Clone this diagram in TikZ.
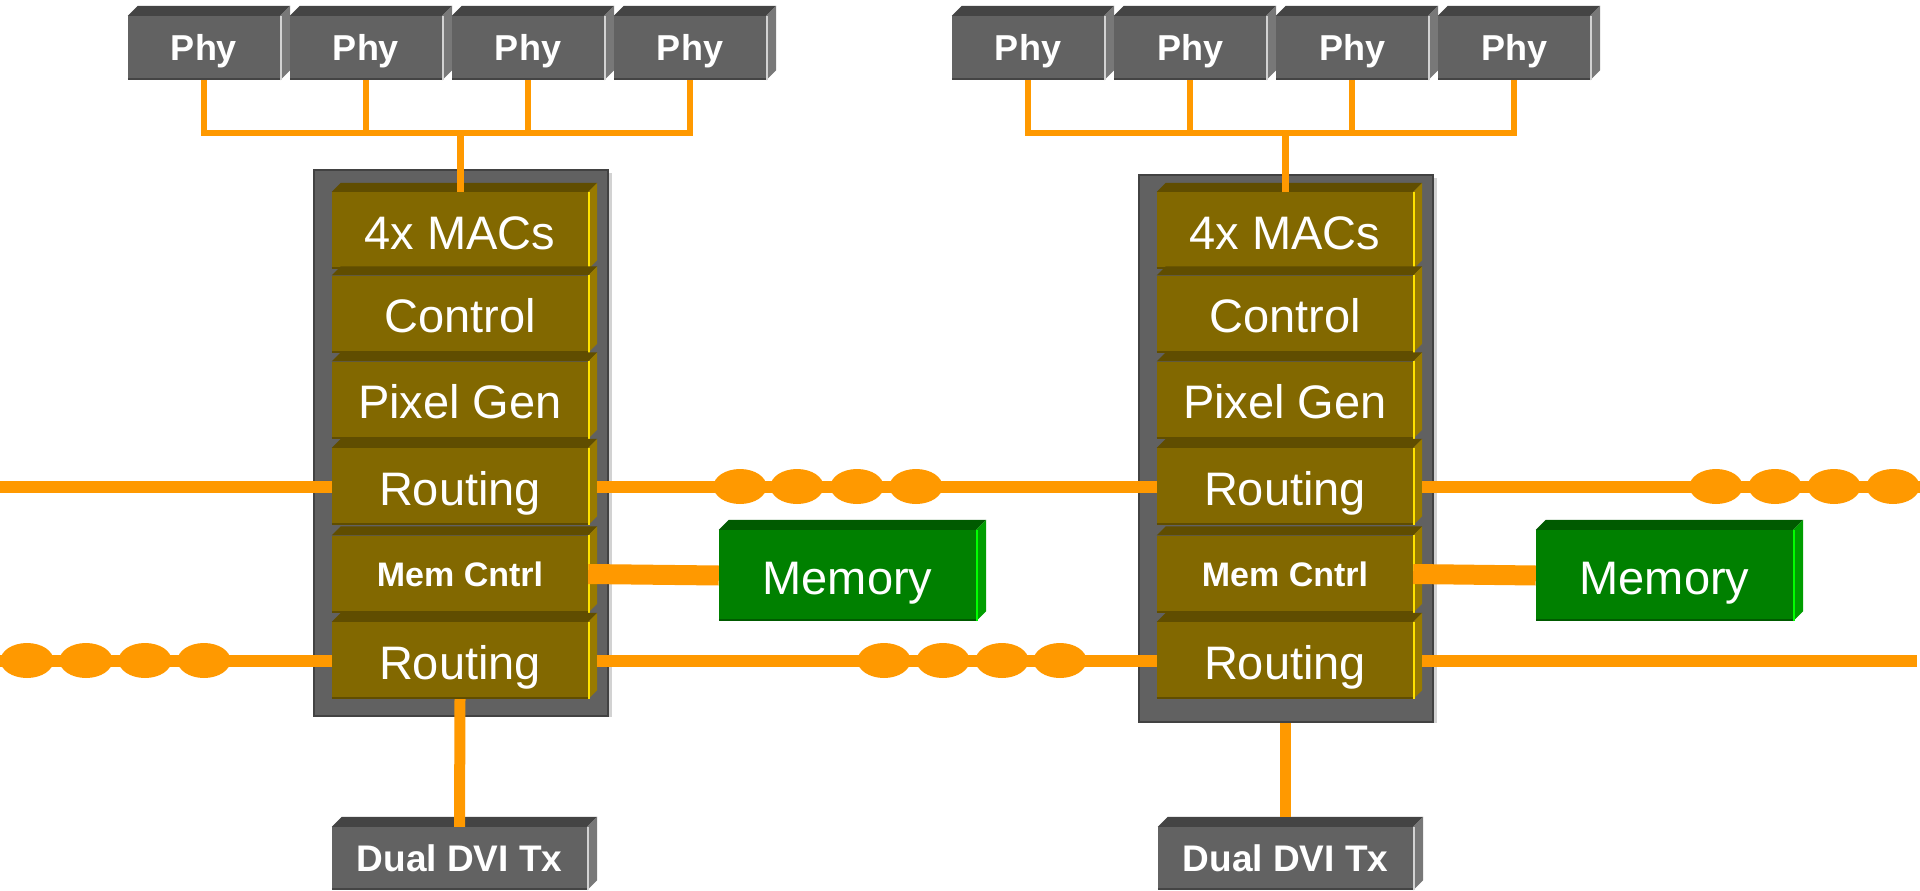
\documentclass[tikz,border=0pt]{standalone}
\usepackage{fontspec}
\setmainfont{Liberation Sans}
\usetikzlibrary{calc}

\definecolor{wire}{RGB}{255,153,0}
\definecolor{oliveF}{RGB}{130,104,0}
\definecolor{oliveT}{RGB}{96,77,0}
\definecolor{oliveS}{RGB}{152,122,0}
\definecolor{oliveE}{RGB}{255,226,0}
\definecolor{grayF}{RGB}{98,98,98}
\definecolor{grayT}{RGB}{68,68,68}
\definecolor{grayS}{RGB}{120,120,120}
\definecolor{grayE}{RGB}{210,210,210}
\definecolor{greenF}{RGB}{0,128,0}
\definecolor{greenT}{RGB}{0,90,0}
\definecolor{greenS}{RGB}{0,158,0}
\definecolor{greenE}{RGB}{0,255,0}
\definecolor{chipF}{RGB}{97,97,97}
\definecolor{chipD}{RGB}{66,66,66}

% 3-D slab around a front-face node: #1 node, #2 depth, #3 top, #4 side, #5 edge
\newcommand\slab[5]{%
  \fill[#3] (#1.north west) -- ([shift={(#2,-#2)}]#1.north west)
     -- ([shift={(#2,-#2)}]#1.north east) -- (#1.north east) -- cycle;
  \fill[#4] (#1.north east) -- ([shift={(#2,-#2)}]#1.north east)
     -- ([shift={(#2,-#2)}]#1.south east) -- (#1.south east) -- cycle;
  \draw[#5, line width=1.5pt] ([xshift=0.75pt]#1.north east) -- ([xshift=0.75pt]#1.south east);
  \draw[#3, line width=2pt] ([yshift=1pt]#1.south west) -- ([yshift=1pt]#1.south east);
}
% light right rim of a chip outline
\newcommand\chiprim[1]{%
  \draw[grayE, line width=3pt] ([shift={(1,4)}]#1.north east) -- ([shift={(1,0)}]#1.south east);
}

\tikzset{
  face/.style={rectangle, inner sep=0pt, text=white, align=center, text depth=0pt},
  regtext/.style={font=\fontsize{47}{50}\selectfont, text height=37.5pt},
  blk/.style={face, regtext, fill=oliveF, minimum width=256pt, minimum height=77pt},
  blkb/.style={face, fill=oliveF, minimum width=256pt, minimum height=77pt,
    font=\bfseries\fontsize{34}{38}\selectfont, text height=24.3pt},
  phy/.style={face, fill=grayF, minimum width=152pt, minimum height=64pt,
    font=\bfseries\fontsize{36}{40}\selectfont, text height=25.8pt},
  dvi/.style={face, fill=grayF, minimum width=255pt, minimum height=63pt,
    font=\bfseries\fontsize{37}{40}\selectfont, text height=26.5pt},
  mem/.style={face, regtext, fill=greenF, minimum width=257pt, minimum height=91pt},
  chip/.style={rectangle, inner sep=0pt, fill=chipF, draw=chipD, line width=2pt},
  thinwire/.style={wire, line width=6.5pt, line join=miter},
  dropwire/.style={wire, line width=7pt},
  link/.style={wire, line width=12pt},
  dviwire/.style={wire, line width=11pt},
  memwire/.style={wire, line width=20pt},
}

\begin{document}
\begin{tikzpicture}[x=1pt,y=-1pt]
\useasboundingbox (0,0) rectangle (1920,891);
\fill[white] (0,0) rectangle (1920,891);

% ---- chip outlines
\node[chip, minimum width=294pt, minimum height=546pt] (chipA) at (461,443) {};
\node[chip, minimum width=294pt, minimum height=547pt] (chipB) at (1286,448.5) {};
\chiprim{chipA}
\chiprim{chipB}

% ---- left chip blocks
\node[blk]  (macA) at (460,230.5) {4x MACs};  \slab{macA}{9}{oliveT}{oliveS}{oliveE}
\node[blk]  (ctlA) at (460,314)   {Control};  \slab{ctlA}{9}{oliveT}{oliveS}{oliveE}
\node[blk]  (pixA) at (460,400)   {Pixel Gen};\slab{pixA}{9}{oliveT}{oliveS}{oliveE}
\node[blk]  (rtA1) at (460,486.5) {Routing};  \slab{rtA1}{9}{oliveT}{oliveS}{oliveE}
\node[blkb] (mcA)  at (460,574)   {Mem Cntrl};\slab{mcA}{9}{oliveT}{oliveS}{oliveE}
\node[blk]  (rtA2) at (460,660.5) {Routing};  \slab{rtA2}{9}{oliveT}{oliveS}{oliveE}

% ---- right chip blocks
\node[blk]  (macB) at (1285,230.5) {4x MACs};  \slab{macB}{9}{oliveT}{oliveS}{oliveE}
\node[blk]  (ctlB) at (1285,314)   {Control};  \slab{ctlB}{9}{oliveT}{oliveS}{oliveE}
\node[blk]  (pixB) at (1285,400)   {Pixel Gen};\slab{pixB}{9}{oliveT}{oliveS}{oliveE}
\node[blk]  (rtB1) at (1285,486.5) {Routing};  \slab{rtB1}{9}{oliveT}{oliveS}{oliveE}
\node[blkb] (mcB)  at (1285,574)   {Mem Cntrl};\slab{mcB}{9}{oliveT}{oliveS}{oliveE}
\node[blk]  (rtB2) at (1285,660.5) {Routing};  \slab{rtB2}{9}{oliveT}{oliveS}{oliveE}

% ---- PHYs
\node[phy] (pa1) at (204,48)  {Phy}; \slab{pa1}{10}{grayT}{grayS}{grayE}
\node[phy] (pa2) at (366,48)  {Phy}; \slab{pa2}{10}{grayT}{grayS}{grayE}
\node[phy] (pa3) at (528,48)  {Phy}; \slab{pa3}{10}{grayT}{grayS}{grayE}
\node[phy] (pa4) at (690,48)  {Phy}; \slab{pa4}{10}{grayT}{grayS}{grayE}
\node[phy] (pb1) at (1028,48) {Phy}; \slab{pb1}{10}{grayT}{grayS}{grayE}
\node[phy] (pb2) at (1190,48) {Phy}; \slab{pb2}{10}{grayT}{grayS}{grayE}
\node[phy] (pb3) at (1352,48) {Phy}; \slab{pb3}{10}{grayT}{grayS}{grayE}
\node[phy] (pb4) at (1514,48) {Phy}; \slab{pb4}{10}{grayT}{grayS}{grayE}

% ---- memories
\node[mem] (memA) at (847.5,575.5)  {Memory}; \slab{memA}{10}{greenT}{greenS}{greenE}
\node[mem] (memB) at (1664.5,575.5) {Memory}; \slab{memB}{10}{greenT}{greenS}{greenE}

% ---- DVI transmitters
\node[dvi] (dviA) at (459.5,858.5) {Dual DVI Tx};  \slab{dviA}{10}{grayT}{grayS}{grayE}
\node[dvi] (dviB) at (1285.5,858.5) {Dual DVI Tx}; \slab{dviB}{10}{grayT}{grayS}{grayE}

% ---- PHY buses
\coordinate (busA) at (460,133);
\coordinate (busB) at (1285,133);
\draw[thinwire] (pa1.south) -- (pa1.south |- busA) -- (pa4.south |- busA) -- (pa4.south);
\draw[thinwire] (pa2.south) -- (pa2.south |- busA);
\draw[thinwire] (pa3.south) -- (pa3.south |- busA);
\draw[dropwire] (busA) -- (macA.north);
\draw[thinwire] (pb1.south) -- (pb1.south |- busB) -- (pb4.south |- busB) -- (pb4.south);
\draw[thinwire] (pb2.south) -- (pb2.south |- busB);
\draw[thinwire] (pb3.south) -- (pb3.south |- busB);
\draw[dropwire] (busB) -- (macB.north);

% ---- memory links
\draw[memwire] (mcA.east) -- (memA.west);
\draw[memwire] (mcB.east) -- (memB.west);

% ---- DVI links
\draw[dviwire] (rtA2.south) -- (dviA.north);
\draw[dviwire] (dviB.north |- chipB.south) -- ([shift={(0,-10)}]dviB.north);

% ---- routing links
\coordinate (edgeL) at (0,0);
\coordinate (edgeR) at (1920,0);
\coordinate (edgeR2) at (1917,0);
\draw[link] (rtA1.west -| edgeL) -- (rtA1.west);
\draw[link] ([xshift=9pt]rtA1.east) -- (rtB1.west);
\draw[link] ([xshift=9pt]rtB1.east) -- (rtB1.east -| edgeR);
\draw[link] (rtA2.west -| edgeL) -- (rtA2.west);
\draw[link] ([xshift=9pt]rtA2.east) -- (rtB2.west);
\draw[link] ([xshift=9pt]rtB2.east) -- (rtB2.east -| edgeR2);

% beads on the chained links
\foreach \bx in {740,797,857,916,1716,1775,1834,1893}
  \fill[wire] (\bx,486.5) ellipse [x radius=26.5, y radius=17.5];
\foreach \bx in {27,86,145,204,884,943,1002,1060}
  \fill[wire] (\bx,660.5) ellipse [x radius=26.5, y radius=17.5];
\end{tikzpicture}
\end{document}
